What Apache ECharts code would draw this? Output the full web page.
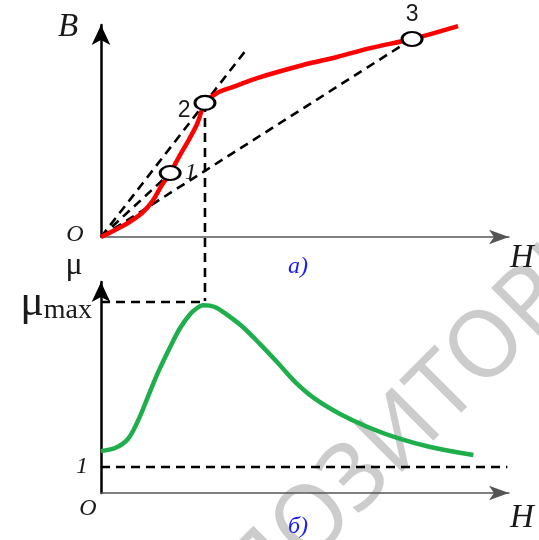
<!DOCTYPE html>
<html lang="ru">
<head>
  <meta charset="UTF-8">
  <title>B(H) и μ(H)</title>
  <style>
    * { margin: 0; padding: 0; box-sizing: border-box; }
    html, body { width: 539px; height: 540px; background: #fff; }
    #chart { width: 539px; height: 540px; }
  </style>
</head>
<body>
  <div id="chart"></div>
  <script src="https://cdn.jsdelivr.net/npm/echarts@6/dist/echarts.min.js"></script>
  <script>
    // кривая намагничивания B(H), условные единицы
    const bhH = [0, 3.4, 6.5, 9.9, 12.3, 14.7, 16.7, 18.8, 21.3, 23.2, 24.2, 25.1, 28.0, 31.9, 37.7, 48.8, 57.0, 65.0, 75.1, 86.2]
    const bhB = [0, 3.2, 6.3, 10.8, 15.8, 23.4, 28.8, 36.0, 44.1, 50.9, 56.3, 60.4, 64.9, 67.6, 71.6, 77.5, 81.1, 85.1, 89.2, 95.0]

    // точки 1, 2, 3 на кривой
    const pointNames = ['1', '2', '3']
    const pointH = [16.7, 25.1, 75.1]
    const pointB = [28.8, 60.4, 89.2]

    // продолжение секущей О-2
    const chordEndH = 35.5
    const chordEndB = 85.4

    // проницаемость μ(H)
    const muH = [0, 3.4, 6.5, 8.9, 11.4, 13.8, 16.7, 19.1, 21.5, 23.2, 24.6, 26.3, 28.0, 31.2, 34.3, 38.4, 42.5, 46.9, 51.7, 57.7, 63.8, 71.5, 79.5, 89.9]
    const muVal = [1.62, 1.73, 2.08, 2.77, 3.73, 4.65, 5.62, 6.35, 6.88, 7.12, 7.23, 7.21, 7.12, 6.77, 6.38, 5.73, 5.04, 4.27, 3.62, 3.04, 2.58, 2.12, 1.77, 1.46]

    const MU_MAX = 7.35
    const MU_ONE = 1
    const oneLineEndH = 98.1
    const dropToB = -28.8 // уровень μmax в шкале верхнего графика

    const zip = (xs, ys) => xs.map((x, i) => [x, ys[i]])

    const serif = '"Liberation Serif", "DejaVu Serif", serif'
    const ink = '#1a1a1a'
    const dashed = { color: '#000', width: 2.6, type: [9, 6] }

    const axisBase = {
      type: 'value',
      min: 0,
      splitLine: { show: false },
      axisTick: { show: false },
      axisLabel: { show: false }
    }
    const xLine = { show: true, onZero: true, symbol: ['none', 'arrow'], symbolSize: [11, 20], lineStyle: { color: '#555', width: 1.5 } }
    const yLine = { show: true, onZero: true, symbol: ['none', 'arrow'], symbolSize: [14, 20], lineStyle: { color: '#000', width: 2.5 } }

    const chart = echarts.init(document.getElementById('chart'))
    const options = {
      animation: false,
      grid: [
        { left: 101, right: 30, top: 25, bottom: 303 },
        { left: 101, right: 30, top: 282, bottom: 47 }
      ],
      xAxis: [
        Object.assign({}, axisBase, { gridIndex: 0, max: 98.5, axisLine: xLine }),
        Object.assign({}, axisBase, { gridIndex: 1, max: 98.5, axisLine: xLine })
      ],
      yAxis: [
        Object.assign({}, axisBase, { gridIndex: 0, max: 95.5, axisLine: yLine }),
        Object.assign({}, axisBase, {
          gridIndex: 1,
          max: 8.12,
          axisLine: yLine,
          axisLabel: {
            show: true,
            customValues: [MU_ONE, MU_MAX],
            margin: 9,
            formatter: v => v === MU_ONE ? '{one|1}' : '{mu|μ}{sub|max}',
            rich: {
              one: { fontFamily: serif, fontStyle: 'italic', fontSize: 24, color: ink, padding: [0, 4, 0, 0] },
              mu: { fontFamily: serif, fontSize: 44, color: ink, verticalAlign: 'bottom' },
              sub: { fontFamily: serif, fontSize: 28, color: ink, verticalAlign: 'bottom', padding: [18, 0, 0, 0] }
            }
          }
        })
      ],
      series: [
        // секущие из начала координат
        {
          type: 'line', xAxisIndex: 0, yAxisIndex: 0, symbol: 'none', silent: true,
          data: [[0, 0], [chordEndH, chordEndB]], lineStyle: dashed
        },
        {
          type: 'line', xAxisIndex: 0, yAxisIndex: 0, symbol: 'none', silent: true,
          data: [[0, 0], [pointH[0], pointB[0]]], lineStyle: dashed
        },
        {
          type: 'line', xAxisIndex: 0, yAxisIndex: 0, symbol: 'none', silent: true,
          data: [[0, 0], [pointH[2], pointB[2]]], lineStyle: dashed
        },
        // вертикаль от точки 2 до μmax
        {
          type: 'line', xAxisIndex: 0, yAxisIndex: 0, symbol: 'none', silent: true, clip: false,
          data: [[pointH[1], pointB[1]], [pointH[1], dropToB]], lineStyle: dashed
        },
        // кривая B(H)
        {
          type: 'line', xAxisIndex: 0, yAxisIndex: 0, symbol: 'none', smooth: 0.3,
          data: zip(bhH, bhB),
          lineStyle: { color: '#ff0000', width: 4.5 }, z: 3
        },
        // точки 1, 2, 3
        {
          type: 'scatter', xAxisIndex: 0, yAxisIndex: 0, z: 4,
          symbol: 'circle', symbolSize: [20, 14],
          itemStyle: { color: '#fff', opacity: 1, borderColor: '#000', borderWidth: 2.5 },
          data: pointNames.map((n, i) => ({
            value: [pointH[i], pointB[i]],
            label: {
              show: true,
              formatter: n,
              position: i === 0 ? 'right' : i === 1 ? 'left' : 'top',
              distance: i === 2 ? 5 : 3,
              offset: i === 1 ? [0, 8] : [0, 0],
              fontFamily: i === 0 ? serif : '"Liberation Sans", Arial, sans-serif',
              fontStyle: i === 0 ? 'italic' : 'normal',
              fontSize: i === 0 ? 24 : 23,
              color: ink
            }
          }))
        },
        // уровень μ = 1
        {
          type: 'line', xAxisIndex: 1, yAxisIndex: 1, symbol: 'none', silent: true,
          data: [[0, MU_ONE], [oneLineEndH, MU_ONE]], lineStyle: dashed
        },
        // уровень μmax
        {
          type: 'line', xAxisIndex: 1, yAxisIndex: 1, symbol: 'none', silent: true,
          data: [[0, MU_MAX], [pointH[1], MU_MAX]], lineStyle: dashed
        },
        // кривая μ(H)
        {
          type: 'line', xAxisIndex: 1, yAxisIndex: 1, symbol: 'none', smooth: 0.35,
          data: zip(muH, muVal),
          lineStyle: { color: '#1eae4b', width: 4.5 }, z: 3
        }
      ],
      graphic: [
        {
          type: 'text', x: 408, y: 428, rotation: 45 * Math.PI / 180, z: 0, silent: true,
          style: {
            text: 'РЕПОЗИТОРИЙ', fontSize: 94, fontFamily: '"Noto Sans", sans-serif',
            fill: 'rgba(0,0,0,0.2)', align: 'center', verticalAlign: 'middle'
          }
        },
        { type: 'text', x: 68, y: 27, z: 100, style: { text: 'B', font: 'italic 33px ' + serif, fill: ink, align: 'center', verticalAlign: 'middle' } },
        { type: 'text', x: 75, y: 235, z: 100, style: { text: 'O', font: 'italic 24px ' + serif, fill: ink, align: 'center', verticalAlign: 'middle' } },
        { type: 'text', x: 522, y: 258, z: 100, style: { text: 'H', font: 'italic 33px ' + serif, fill: ink, align: 'center', verticalAlign: 'middle' } },
        { type: 'text', x: 298, y: 267, z: 100, style: { text: 'а)', font: 'italic 24px ' + serif, fill: '#1a1aff', align: 'center', verticalAlign: 'middle' } },
        { type: 'text', x: 74, y: 266, z: 100, style: { text: 'μ', font: '32px ' + serif, fill: ink, align: 'center', verticalAlign: 'middle' } },
        { type: 'text', x: 88, y: 509, z: 100, style: { text: 'O', font: 'italic 24px ' + serif, fill: ink, align: 'center', verticalAlign: 'middle' } },
        { type: 'text', x: 522, y: 518, z: 100, style: { text: 'H', font: 'italic 33px ' + serif, fill: ink, align: 'center', verticalAlign: 'middle' } },
        { type: 'text', x: 298, y: 527, z: 100, style: { text: 'б)', font: 'italic 24px ' + serif, fill: '#1a1aff', align: 'center', verticalAlign: 'middle' } }
      ]
    }

    chart.setOption(options)
  </script>
</body>
</html>
